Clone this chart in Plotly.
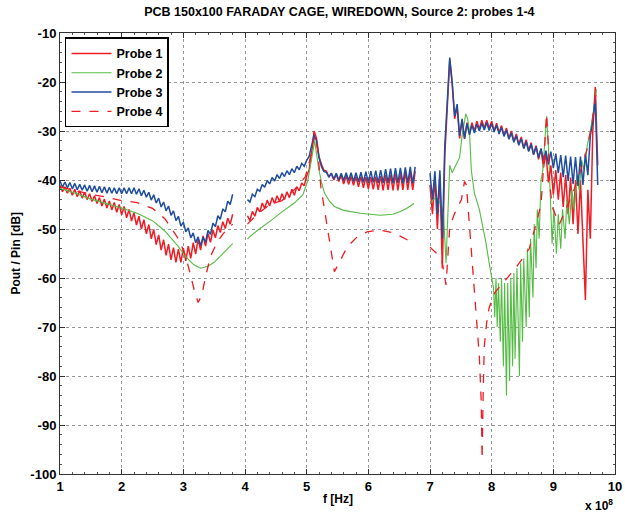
import plotly.graph_objects as go

# ---------------- data (f in units of 1e8 Hz, values in dB) ----------------
# sampling grids for the rippled traces (Probe 1 and Probe 3)
grid1 = [round(1.00 + 0.04 * i, 2) for i in range(71)]   # 1.00 .. 3.80
grid2 = [round(4.04 + 0.04 * i, 2) for i in range(69)]   # 4.04 .. 6.76
grid3 = [round(7.00 + 0.04 * i, 2) for i in range(69)]   # 7.00 .. 9.72

probe1_s1 = [-41.1, -42.4, -41.4, -42.7, -41.7, -43.1, -41.9, -43.4, -42.2, -43.7,
             -42.5, -44.0, -42.8, -44.4, -43.2, -44.8, -43.6, -45.3, -43.9, -45.7,
             -44.3, -46.1, -44.6, -46.6, -45.0, -47.1, -45.4, -47.7, -46.0, -48.4,
             -46.7, -49.2, -47.4, -50.0, -48.1, -51.0, -49.1, -52.0, -50.1, -53.2,
             -51.2, -54.3, -52.2, -55.4, -53.1, -56.3, -53.8, -56.8, -54.1, -56.8,
             -53.9, -56.5, -53.5, -56.0, -52.8, -55.1, -52.1, -54.3, -51.4, -53.5,
             -50.9, -52.7, -50.2, -51.8, -49.3, -50.7, -48.5, -49.9, -47.8, -49.0,
             -47.0]
probe1_s2 = [-47.3, -48.3, -46.4, -47.4, -45.6, -46.5, -44.7, -45.8, -44.1, -45.3,
             -43.6, -44.8, -43.2, -44.4, -42.8, -44.0, -42.4, -43.6, -41.9, -43.1,
             -41.4, -42.2, -40.6, -41.2, -39.2, -37.9, -34.5, -30.0, -31.5, -35.2,
             -36.8, -38.0, -38.2, -39.4, -38.7, -40.0, -38.9, -40.3, -39.1, -40.8,
             -39.2, -40.9, -39.3, -41.1, -39.3, -41.4, -39.3, -41.6, -39.4, -41.8,
             -39.4, -41.9, -39.3, -42.0, -39.2, -42.1, -39.0, -42.0, -38.9, -42.1,
             -38.8, -42.1, -38.6, -42.0, -38.4, -42.0, -38.3, -42.0, -38.2]
probe1_s3 = [-41.0, -47.0, -39.5, -50.0, -39.0, -58.0, -35.0, -26.0, -15.5, -20.5,
             -27.5, -25.0, -31.5, -27.8, -31.6, -28.3, -30.5, -28.3, -30.0, -28.0,
             -29.6, -27.8, -29.4, -27.8, -29.4, -28.0, -29.9, -28.4, -30.3, -28.9,
             -30.9, -29.4, -31.5, -30.0, -32.1, -30.6, -32.7, -31.2, -33.4, -31.8,
             -34.0, -32.4, -34.8, -33.0, -35.8, -33.6, -37.5, -34.5, -40.5, -37.0,
             -43.0, -38.0, -44.0, -38.5, -45.5, -39.0, -47.0, -39.5, -49.0, -40.0,
             -51.0, -40.0, -53.0, -64.5, -42.0, -52.0, -30.0, -21.0, -37.0]

probe3_s1 = [-40.2, -41.5, -40.4, -41.6, -40.5, -41.8, -40.7, -42.0, -40.9, -42.1,
             -41.0, -42.3, -41.1, -42.4, -41.2, -42.5, -41.3, -42.6, -41.4, -42.7,
             -41.5, -42.7, -41.6, -42.8, -41.6, -42.8, -41.6, -42.8, -41.6, -42.8,
             -41.6, -42.9, -41.8, -43.2, -42.1, -43.5, -42.5, -44.1, -43.0, -44.7,
             -43.7, -45.5, -44.5, -46.3, -45.3, -47.2, -46.3, -48.3, -47.4, -49.4,
             -48.6, -50.6, -49.8, -51.8, -50.8, -52.8, -51.6, -53.4, -51.7, -52.7,
             -50.3, -51.1, -48.8, -49.5, -47.3, -48.0, -45.9, -46.5, -44.3, -45.0,
             -42.9]
probe3_s2 = [-44.0, -44.5, -42.9, -43.4, -41.9, -42.3, -40.9, -41.5, -40.1, -40.8,
             -39.5, -40.2, -38.9, -39.7, -38.5, -39.3, -38.1, -38.9, -37.7, -38.5,
             -37.2, -37.9, -36.6, -37.2, -36.0, -35.2, -33.0, -30.8, -32.0, -35.5,
             -37.3, -38.3, -38.4, -39.4, -38.6, -39.8, -38.6, -40.0, -38.6, -40.1,
             -38.5, -40.1, -38.5, -40.3, -38.5, -40.4, -38.4, -40.5, -38.3, -40.6,
             -38.2, -40.5, -38.1, -40.6, -38.0, -40.6, -37.8, -40.6, -37.7, -40.7,
             -37.6, -40.6, -37.5, -40.7, -37.4, -40.6, -37.3, -40.7, -37.3]
probe3_s3 = [-38.6, -44.0, -38.2, -47.0, -38.0, -52.0, -33.0, -25.0, -15.0, -20.0,
             -27.0, -24.5, -31.0, -27.5, -31.5, -28.5, -30.8, -28.8, -30.4, -28.6,
             -30.0, -28.4, -29.8, -28.3, -29.9, -28.5, -30.2, -28.8, -30.6, -29.3,
             -31.1, -29.8, -31.7, -30.4, -32.3, -31.0, -32.9, -31.6, -33.6, -32.2,
             -34.2, -32.7, -34.8, -33.2, -35.4, -33.6, -36.0, -34.0, -36.8, -34.2,
             -37.6, -34.6, -38.6, -34.9, -39.4, -35.0, -40.2, -35.2, -40.8, -35.3,
             -41.2, -35.2, -41.0, -34.6, -39.0, -31.0, -28.0, -23.2, -41.0]

probe2_f1 = [1.0, 1.25, 1.5, 1.75, 2.0, 2.25, 2.5, 2.7, 2.9, 3.05, 3.17, 3.28, 3.4,
             3.5, 3.6, 3.7, 3.8]
probe2_s1 = [-41.7, -42.7, -43.9, -44.8, -45.7, -46.8, -48.3, -50.4, -53.3, -55.8,
             -57.3, -58.0, -57.6, -56.8, -55.6, -54.3, -53.0]
probe2_f2 = [4.04, 4.2, 4.43, 4.6, 4.8, 4.94, 5.02, 5.08, 5.13, 5.19, 5.24, 5.29,
             5.37, 5.45, 5.6, 5.87, 6.19, 6.4, 6.51, 6.62, 6.74]
probe2_s2 = [-52.0, -50.3, -48.2, -46.5, -44.7, -43.0, -40.0, -36.0, -32.0, -37.3,
             -40.5, -42.7, -44.3, -45.4, -46.2, -46.8, -47.2, -47.0, -46.5, -45.8,
             -44.8]
probe2_f3 = [7.0, 7.1, 7.18, 7.22, 7.26, 7.28, 7.3, 7.32, 7.36, 7.4, 7.44, 7.48, 7.52,
             7.55, 7.58, 7.61, 7.64, 7.67, 7.72, 7.8, 7.86, 7.91, 7.96, 8.0,
             8.03, 8.05, 8.07, 8.09, 8.11, 8.14, 8.16, 8.19, 8.21, 8.24, 8.26, 8.29,
             8.31, 8.34, 8.36, 8.38, 8.41, 8.45, 8.47, 8.5, 8.52, 8.56, 8.58, 8.61,
             8.63, 8.67, 8.69, 8.72, 8.74, 8.77, 8.8, 8.83, 8.86, 8.89, 8.92, 8.95,
             8.98, 9.01, 9.05, 9.08, 9.12, 9.15, 9.19, 9.22, 9.26, 9.3, 9.34, 9.38,
             9.42, 9.46, 9.5, 9.55, 9.6, 9.65, 9.7]
probe2_s3 = [-44.7, -43.5, -45.0, -47.0, -57.0, -50.0, -42.0, -37.0, -38.5, -37.5,
             -36.5, -35.4, -31.0, -28.5, -26.5, -27.5, -30.0, -38.0, -42.7, -46.0,
             -49.6, -53.0, -57.0, -59.5,
             -62.0, -68.0, -60.0, -70.0, -61.0, -73.0, -60.0, -78.0, -61.0, -84.0,
             -61.0, -81.0, -60.0, -78.0, -59.0, -76.5, -58.0, -80.0, -57.0, -73.0,
             -56.0, -70.0, -54.0, -68.0, -52.0, -64.0, -49.0, -58.0, -46.0, -52.0,
             -40.0, -38.0, -32.0, -27.0, -33.0, -42.0, -53.0, -46.0, -55.0, -47.0,
             -54.0, -46.0, -52.0, -44.0, -49.0, -42.0, -46.0, -39.0, -42.0, -36.0,
             -38.0, -33.0, -30.0, -26.0, -21.5]

probe4_f1 = [1.0, 1.25, 1.5, 1.75, 2.0, 2.25, 2.5, 2.7, 2.82, 2.93, 3.04, 3.12, 3.18,
             3.24, 3.3, 3.36, 3.44, 3.54, 3.65, 3.8]
probe4_s1 = [-41.4, -42.2, -42.9, -43.5, -44.2, -44.6, -45.8, -47.9, -50.2, -52.2,
             -55.6, -59.7, -62.6, -65.0, -63.5, -59.7, -55.6, -52.9, -50.9, -49.0]
probe4_f2 = [4.04, 4.2, 4.4, 4.6, 4.8, 4.98, 5.05, 5.1, 5.14, 5.18, 5.23, 5.31, 5.39,
             5.45, 5.55, 5.66, 5.82, 5.98, 6.19, 6.41, 6.63, 6.74]
probe4_s2 = [-49.0, -47.0, -45.0, -44.2, -42.0, -39.3, -36.0, -32.5, -31.0, -34.0,
             -41.4, -47.5, -54.3, -58.7, -56.3, -53.6, -51.6, -50.6, -50.2, -50.8,
             -52.2, -53.0]
probe4_f3 = [7.0, 7.1, 7.19, 7.26, 7.32, 7.4, 7.51, 7.56, 7.59, 7.64, 7.7, 7.75, 7.8,
             7.83, 7.845, 7.86, 7.88, 7.92, 7.96, 8.05, 8.12, 8.25, 8.4, 8.52, 8.61,
             8.72, 8.8, 8.83, 8.86, 8.89, 8.92, 8.94, 8.99, 9.1, 9.2, 9.32, 9.42, 9.54,
             9.62, 9.7, 9.73]
probe4_s3 = [-53.7, -54.9, -56.3, -61.4, -49.6, -46.8, -44.0, -40.3, -41.0, -49.5,
             -58.0, -67.0, -76.0, -85.0, -97.0, -85.0, -74.0, -69.0, -66.0, -63.0,
             -62.0, -60.0, -57.8, -55.7, -54.0, -49.0, -45.0, -39.6, -32.0, -26.5,
             -33.0, -41.0, -45.8, -49.0, -46.0, -42.5, -39.0, -34.0, -29.0, -21.6,
             -22.0]

names = ["Probe 1", "Probe 2", "Probe 3", "Probe 4"]
colors = ["#ee1c24", "#55bb44", "#1f4e9e", "#ee1c24"]
x_ticks = [1, 2, 3, 4, 5, 6, 7, 8, 9, 10]
y_ticks = [-100, -90, -80, -70, -60, -50, -40, -30, -20, -10]


def join(*segs):
    xs, ys = [], []
    for i, (sx, sy) in enumerate(segs):
        if i:
            xs.append(None)
            ys.append(None)
        xs += list(sx)
        ys += list(sy)
    return xs, ys


series = [
    join((grid1, probe1_s1), (grid2, probe1_s2), (grid3, probe1_s3)),
    join((probe2_f1, probe2_s1), (probe2_f2, probe2_s2), (probe2_f3, probe2_s3)),
    join((grid1, probe3_s1), (grid2, probe3_s2), (grid3, probe3_s3)),
    join((probe4_f1, probe4_s1), (probe4_f2, probe4_s2), (probe4_f3, probe4_s3)),
]
widths = [1.5, 1.1, 1.5, 1.3]
dashes = ["solid", "solid", "solid", "dash"]

fig = go.Figure()
for (xs, ys), name, col, w, d in zip(series, names, colors, widths, dashes):
    fig.add_trace(go.Scatter(x=xs, y=ys, mode="lines", name=name,
                             line=dict(color=col, width=w, dash=d),
                             connectgaps=False))

FONT = "Liberation Sans, Arial, sans-serif"
axis_common = dict(
    showline=True, linecolor="#333", linewidth=1, mirror="ticks",
    ticks="inside", ticklen=5, tickcolor="#333",
    showgrid=True, gridcolor="#999", griddash="dot", gridwidth=1,
    zeroline=False, automargin=False, ticklabeloverflow="allow",
    tickfont=dict(family=FONT, size=13, color="black", weight="bold"),
    minor=dict(ticks="inside", ticklen=2, tickcolor="#555", showgrid=False),
)

fig.update_layout(
    width=625, height=514,
    margin=dict(l=60, r=10, t=33, b=40),
    paper_bgcolor="white", plot_bgcolor="white",
    font=dict(family=FONT, size=12, color="black", weight="bold"),
    title=dict(text="PCB 150x100 FARADAY CAGE, WIREDOWN, Source 2: probes 1-4",
               x=0.543, xanchor="center", y=0.977, yanchor="middle",
               font=dict(family=FONT, size=12.5, color="black", weight="bold")),
    xaxis=dict(range=[1, 10], tickvals=x_ticks, ticktext=[str(v) for v in x_ticks],
               minor_dtick=0.2, **axis_common),
    yaxis=dict(range=[-100, -10], tickvals=y_ticks, ticktext=[str(v) for v in y_ticks],
               minor_dtick=2, **axis_common),
    showlegend=True,
    legend=dict(x=0.009, y=0.99, xanchor="left", yanchor="top",
                bgcolor="white", bordercolor="black", borderwidth=1.5,
                font=dict(family=FONT, size=12.5, color="black", weight="bold"),
                itemwidth=40, tracegroupgap=0),
    annotations=[
        dict(text="f [Hz]", xref="paper", yref="paper", x=0.5, y=-0.057,
             xanchor="center", yanchor="middle", showarrow=False,
             font=dict(family=FONT, size=12, color="black", weight="bold")),
        dict(text="Pout / Pin [dB]", xref="paper", yref="paper", x=-0.081, y=0.5,
             xanchor="center", yanchor="middle", textangle=-90, showarrow=False,
             font=dict(family=FONT, size=12, color="black", weight="bold")),
        dict(text="x 10<sup>8</sup>", xref="paper", yref="paper", x=1.0, y=-0.07,
             xanchor="right", yanchor="middle", showarrow=False,
             font=dict(family=FONT, size=12, color="black", weight="bold")),
    ],
)

fig.write_html("out.html",
               config={"displayModeBar": False},
               post_script="document.body.style.margin='0';"
                           "document.body.style.overflow='hidden';")
